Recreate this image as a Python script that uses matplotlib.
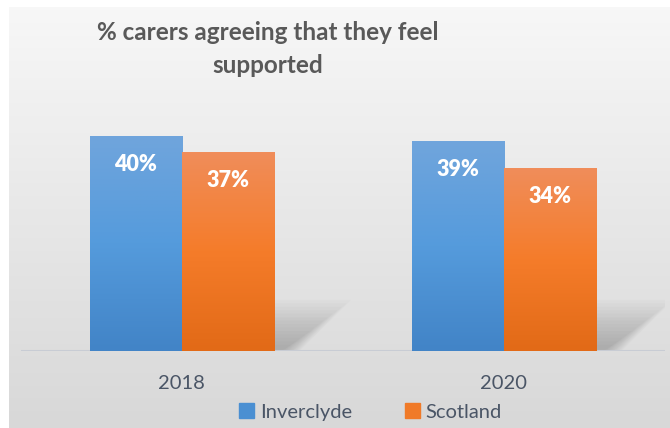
import numpy as np
import matplotlib
matplotlib.use("Agg")
import matplotlib.pyplot as plt
from matplotlib.patches import Polygon, Patch
from matplotlib.colors import LinearSegmentedColormap

years = ["2018", "2020"]
inverclyde = [40, 39]
scotland = [37, 34]
series_names = ["Inverclyde", "Scotland"]

plt.rcParams['font.family'] = ['Lato', 'DejaVu Sans']

fig = plt.figure(figsize=(6.7, 4.28), dpi=100)

# background with soft grey gradient
bg = fig.add_axes([0.013, 0, 0.987, 0.984])
bg.imshow(np.linspace(0, 1, 100).reshape(-1, 1), aspect="auto", extent=[0, 1, 0, 1],
          cmap=LinearSegmentedColormap.from_list("bg", ["#f7f7f7", "#d8d8d8"]))
bg.axis("off")

ax = fig.add_axes([0.031, 0.18, 0.961, 0.6285])
ax.patch.set_visible(False)
x = np.arange(len(years))
w = 0.286

blue_cm = LinearSegmentedColormap.from_list("b", ["#70a5dc", "#559bdc", "#4284c7"])
orange_cm = LinearSegmentedColormap.from_list("o", ["#f08d5a", "#f57c2a", "#e26a17"])

for vals, off, cm in [(inverclyde, -w / 2, blue_cm), (scotland, w / 2, orange_cm)]:
    bars = ax.bar(x + off, vals, w, color="none", zorder=3)
    for b, v in zip(bars, vals):
        x0 = b.get_x()
        # soft slanted shadow behind orange bars
        if cm is orange_cm:
            n = 14
            for k in range(n):
                g = 1 - k / n
                sh = Polygon([[x0 + w, 0], [x0 + w, 9 * g + 0.5],
                              [x0 + w + 0.04 + 0.2 * g, 9 * g + 0.5], [x0 + w + 0.02 + 0.06 * g, 0]],
                             closed=True, color="#707070", alpha=0.035, lw=0, zorder=1)
                ax.add_patch(sh)
        im = ax.imshow(np.linspace(0, 1, 100).reshape(-1, 1), aspect="auto", cmap=cm,
                       extent=[x0, x0 + w, 0, v], zorder=3)
        im.set_clip_path(b)
        ax.text(x0 + w / 2, v - 5.3, f"{v}%", ha="center", va="center", color="white",
                fontsize=15.5, fontweight="heavy", zorder=4)

ax.set_xlim(-0.5, 1.5)
ax.set_ylim(0, 50)
ax.axhline(0, color="#c8ccd4", lw=1.5, zorder=2)
ax.set_xticks(x)
ax.set_xticklabels(years, fontsize=14.5, color="#4a5566")
ax.tick_params(axis="x", length=0, pad=17)
ax.set_yticks([])
for s in ax.spines.values():
    s.set_visible(False)

fig.text(0.40, 0.885, "% carers agreeing that they feel\nsupported", ha="center", va="center",
         fontsize=17.5, fontweight="bold", color="#595959", linespacing=1.5)

handles = [Patch(color="#4a8fd2"), Patch(color="#f07a28")]
fig.legend(handles, series_names, loc="center", bbox_to_anchor=(0.553, 0.037), ncol=2,
           frameon=False, fontsize=14.5, handlelength=0.75, handleheight=0.75,
           handletextpad=0.3, columnspacing=2.6, labelcolor="#4a5566")

fig.savefig("out.png", dpi=100)
